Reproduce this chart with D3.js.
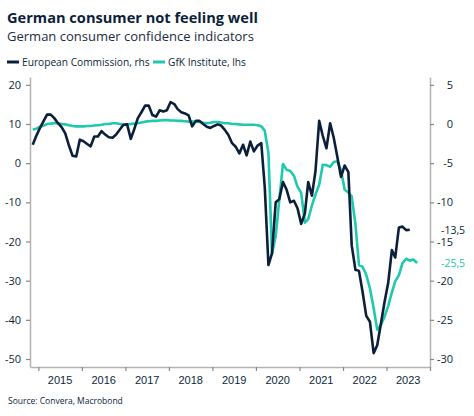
<!DOCTYPE html>
<html>
<head>
<meta charset="utf-8">
<script src="https://cdn.jsdelivr.net/npm/d3@7"></script>
<style>
  body { margin: 0; background: #fff; }
  svg { display: block; font-family: "Open Sans", "Noto Sans", sans-serif; }
</style>
</head>
<body>
<div id="chart"></div>
<script>
// monthly readings, first point Nov 2014
const startMonth = new Date(2014, 10, 15);

// European Commission, read in lhs units (plotted on rhs as (v - 10) / 2)
const ecLhs = [
  4.7, 7.0, 9.0, 10.8, 12.4, 12.4, 11.5, 10.2, 9.2, 7.6,
  4.5, 1.9, 1.7, 6.0, 5.6, 4.9, 4.3, 6.8, 6.8, 8.2,
  7.3, 6.6, 6.5, 7.3, 8.6, 9.8, 9.9, 6.2, 8.6, 11.5,
  13.0, 14.7, 14.7, 12.3, 11.9, 13.5, 13.2, 13.5, 15.6, 15.1,
  13.8, 13.0, 12.7, 12.2, 9.4, 10.8, 10.8, 10.0, 9.3, 9.0,
  9.5, 9.9, 9.6, 8.5, 7.2, 5.1, 4.2, 2.5, 4.7, 2.0,
  5.5, 3.0, 4.5, 5.1, -6.0, -26.0, -23.0, -10.0, -9.2, -4.8,
  -6.8, -10.0, -9.6, -11.5, -15.5, -12.8, -4.8, -8.3, -2.0, 10.8,
  7.0, 3.8, 10.2, 6.5, 1.5, -3.5, -0.6, -2.3, -21.0, -27.2,
  -27.5, -33.0, -39.0, -40.5, -48.5, -46.5, -41.0, -35.5, -30.6, -22.2,
  -24.1, -16.4, -16.2, -17.1, -17.0
];

// GfK Institute, lhs
const gfk = [
  8.6, 8.8, 9.3, 9.6, 10.0, 10.1, 10.2, 10.2, 10.0, 9.9,
  9.7, 9.5, 9.4, 9.4, 9.4, 9.5, 9.5, 9.6, 9.7, 9.8,
  10.0, 10.0, 10.2, 10.2, 10.0, 9.8, 9.9, 10.0, 10.1, 10.2,
  10.4, 10.6, 10.7, 10.8, 10.8, 10.9, 11.0, 11.0, 10.9, 10.9,
  10.8, 10.8, 10.7, 10.6, 10.6, 10.6, 10.5, 10.3, 10.2, 10.3,
  10.5, 10.5, 10.4, 10.2, 10.2, 10.0, 10.0, 9.9, 9.8, 9.8,
  9.8, 9.8, 9.7, 9.4, 8.3, 2.7, -23.1, -18.6, -9.4, -0.2,
  -1.7, -2.0, -3.2, -6.0, -7.6, -15.2, -14.3, -10.8, -8.0, -5.5,
  -0.4, -0.5, -0.9, 0.3, 0.5, -1.8, -6.8, -7.5, -8.5, -15.5,
  -26.0, -26.5, -28.5, -32.0, -37.0, -42.5, -41.3, -39.2, -36.5, -33.0,
  -30.2, -28.6, -25.5, -24.4, -24.9, -24.6, -25.5
];

const leftTicks = [20, 10, 0, -10, -20, -30, -40, -50];
const rightTicks = [5, 0, -5, -10, -15, -20, -25, -30];
const years = [2015, 2016, 2017, 2018, 2019, 2020, 2021, 2022, 2023];
const seriesNames = ["European Commission, rhs", "GfK Institute, lhs"];
const endLabels = ["-13,5", "-25,5"];

const navy = "#0c1f3a";
const teal = "#1ec9ae";
const axisGrey = "#b4b4b4";

const W = 474, H = 416;
const svg = d3.select("#chart").append("svg").attr("width", W).attr("height", H);

const monthDate = i => d3.timeMonth.offset(startMonth, i);
const ecData = ecLhs.map((v, i) => ({date: monthDate(i), value: (v - 10) / 2}));
const gfkData = gfk.map((v, i) => ({date: monthDate(i), value: v}));

const x = d3.scaleTime()
  .domain([new Date(2014, 9, 23), new Date(2024, 0, 1)])
  .range([30, 430]);
const yL = d3.scaleLinear().domain([-52.04, 22]).range([367, 77]);
const yR = d3.scaleLinear().domain([-31.02, 6]).range([367, 77]);

// fit a text to the width it has in the picture
function fit(sel, width) {
  const node = sel.node();
  const size = parseFloat(sel.attr("font-size"));
  const len = node.getComputedTextLength();
  sel.attr("font-size", (size * width / len).toFixed(2));
  return sel;
}

// titles
fit(svg.append("text").attr("x", 7).attr("y", 23)
  .attr("font-size", 14).attr("font-weight", 700).attr("fill", navy)
  .text("German consumer not feeling well"), 251);
fit(svg.append("text").attr("x", 7).attr("y", 41)
  .attr("font-size", 13).attr("fill", "#1c2b44")
  .text("German consumer confidence indicators"), 247);

// legend
const legend = svg.append("g");
const legendItems = [
  {name: seriesNames[0], color: navy, x: 7, w: 128},
  {name: seriesNames[1], color: teal, x: 153, w: 78}
];
legendItems.forEach(d => {
  legend.append("line").attr("x1", d.x).attr("x2", d.x + 12)
    .attr("y1", 62).attr("y2", 62)
    .attr("stroke", d.color).attr("stroke-width", 3);
  fit(legend.append("text").attr("x", d.x + 15).attr("y", 66)
    .attr("font-size", 11).attr("fill", navy).text(d.name), d.w);
});

// axes
const styleAxis = g => {
  g.select(".domain").attr("stroke", axisGrey).attr("stroke-width", 1.5);
  g.selectAll(".tick line").attr("stroke", "#888").attr("stroke-width", 1.2);
  g.selectAll(".tick text").attr("fill", navy).attr("font-size", 11)
    .attr("font-family", "Open Sans, Noto Sans, sans-serif");
};

svg.append("g").attr("transform", "translate(30,0)")
  .call(d3.axisLeft(yL).tickValues(leftTicks).tickSize(4).tickSizeOuter(0).tickPadding(5)
    .tickFormat(d => d))
  .call(styleAxis);

const rAxis = svg.append("g").attr("transform", "translate(430,0)")
  .call(d3.axisRight(yR).tickValues(rightTicks).tickSize(4).tickSizeOuter(0)
    .tickFormat(d => d))
  .call(styleAxis);
rAxis.selectAll(".tick text").attr("text-anchor", "end").attr("x", 23);

const xAxis = svg.append("g").attr("transform", "translate(0,367)")
  .call(d3.axisBottom(x)
    .tickValues(d3.range(2015, 2025).map(yr => new Date(yr, 0, 1)))
    .tickSize(4).tickSizeOuter(0).tickFormat(""))
  .call(styleAxis);

xAxis.selectAll(".year").data(years).join("text")
  .attr("class", "year")
  .attr("x", yr => (x(new Date(yr, 0, 1)) + x(new Date(yr + 1, 0, 1))) / 2)
  .attr("y", 16.5)
  .attr("text-anchor", "middle")
  .attr("font-size", 11).attr("fill", navy)
  .text(yr => yr);

// lines
const lineL = d3.line().x(d => x(d.date)).y(d => yL(d.value));
const lineR = d3.line().x(d => x(d.date)).y(d => yR(d.value));

svg.append("path").datum(gfkData)
  .attr("fill", "none").attr("stroke", teal).attr("stroke-width", 2.6)
  .attr("stroke-linejoin", "round")
  .attr("d", lineL);

svg.append("path").datum(ecData)
  .attr("fill", "none").attr("stroke", navy).attr("stroke-width", 2.6)
  .attr("stroke-linejoin", "round")
  .attr("d", lineR);

// end value labels on the right axis
const ends = [
  {text: endLabels[0], y: yR(ecData[ecData.length - 1].value), color: navy},
  {text: endLabels[1], y: yL(gfkData[gfkData.length - 1].value), color: teal}
];
const endG = svg.append("g").selectAll("g").data(ends).join("g")
  .attr("transform", d => `translate(441,${d.y})`);
endG.append("rect").attr("x", -1).attr("y", -7.5).attr("width", 24).attr("height", 14.5)
  .attr("fill", "#fff");
endG.append("text").attr("x", 0).attr("y", 4)
  .attr("font-size", 10.5).attr("fill", d => d.color)
  .text(d => d.text);

// source
fit(svg.append("text").attr("x", 8).attr("y", 404)
  .attr("font-size", 9).attr("fill", navy)
  .text("Source: Convera, Macrobond"), 115);
</script>
</body>
</html>
